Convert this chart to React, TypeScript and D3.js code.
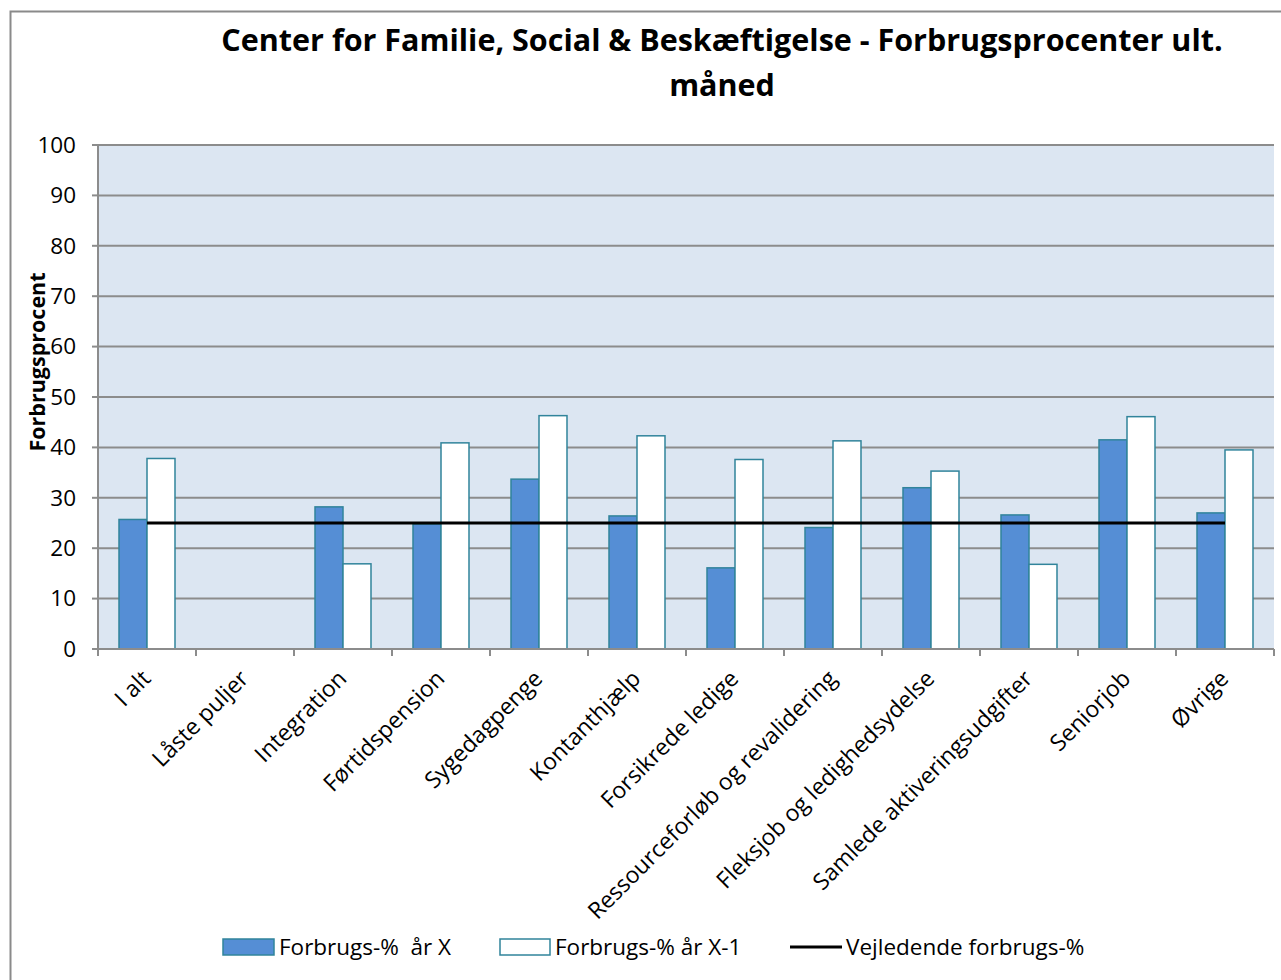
import * as d3 from 'd3';

const categories = [
  'I alt', 'Låste puljer', 'Integration', 'Førtidspension', 'Sygedagpenge', 'Kontanthjælp',
  'Forsikrede ledige', 'Ressourceforløb og revalidering', 'Fleksjob og ledighedsydelse',
  'Samlede aktiveringsudgifter', 'Seniorjob', 'Øvrige',
];
const yearX: (number | null)[] = [25.7, null, 28.2, 24.8, 33.7, 26.4, 16.1, 24.1, 32.0, 26.6, 41.5, 27.0];
const yearX1: (number | null)[] = [37.8, null, 16.9, 40.9, 46.3, 42.3, 37.6, 41.3, 35.3, 16.8, 46.1, 39.5];
const guide = [25, 25, 25, 25, 25, 25, 25, 25, 25, 25, 25, 25];
const yTicks = [0, 10, 20, 30, 40, 50, 60, 70, 80, 90, 100];

const FONT = '"Open Sans", Lato, sans-serif';
const BLUE = '#558ED5';
const EDGE = '#31849B';
const GRID = '#8c8c8c';

export default function App() {
  const W = 1281, H = 980;
  const m = { left: 98, right: 1274, top: 145, bottom: 649 };

  const x = d3.scaleBand<string>().domain(categories).range([m.left, m.right]).padding(0);
  const y = d3.scaleLinear().domain([0, 100]).range([m.bottom, m.top]);
  const bw = x.bandwidth() * 0.2857; // two bars + 150% gap
  const line = d3.line<number>()
    .x((_, i) => (x(categories[i]) ?? 0) + x.bandwidth() / 2)
    .y(d => y(d));

  return (
    <svg width={W} height={H} style={{ position: 'absolute', left: 0, top: 0, background: '#fff' }}
      fontFamily={FONT}>
      <rect x={0} y={0} width={W} height={H} fill="#fff" />
      {/* outer frame */}
      <path d={`M10.5,${H} V11.5 H${W}`} fill="none" stroke="#8a8a8a" strokeWidth={2} />

      {/* title */}
      <text x={722} y={51} textAnchor="middle" fontSize={30.5} fontWeight="bold">
        Center for Familie, Social &amp; Beskæftigelse - Forbrugsprocenter ult.
      </text>
      <text x={722} y={96} textAnchor="middle" fontSize={30.5} fontWeight="bold">måned</text>

      {/* plot background */}
      <rect x={m.left} y={m.top} width={m.right - m.left} height={m.bottom - m.top} fill="#DCE6F2" />

      {/* grid + y ticks */}
      {yTicks.map(t => (
        <g key={t}>
          {t > 0 && <line x1={m.left} x2={m.right} y1={y(t)} y2={y(t)} stroke={GRID} strokeWidth={2} />}
          <line x1={m.left - 6} x2={m.left} y1={y(t)} y2={y(t)} stroke={GRID} strokeWidth={2} />
          <text x={76} y={y(t)} dy="0.35em" textAnchor="end" fontSize={22.5}>{t}</text>
        </g>
      ))}

      {/* y axis */}
      <line x1={m.left} x2={m.left} y1={m.top} y2={m.bottom} stroke={GRID} strokeWidth={2} />
      <text transform={`translate(45,362) rotate(-90)`} textAnchor="middle"
        fontSize={21.5} fontWeight="bold">Forbrugsprocent</text>

      {/* bars */}
      {categories.map((c, i) => {
        const cx = (x(c) ?? 0) + x.bandwidth() / 2;
        const a = yearX[i], b = yearX1[i];
        return (
          <g key={c}>
            {a != null && (
              <rect x={cx - bw} y={y(a)} width={bw} height={y(0) - y(a)} fill={BLUE} stroke={EDGE} strokeWidth={1.5} />
            )}
            {b != null && (
              <rect x={cx} y={y(b)} width={bw} height={y(0) - y(b)} fill="#fff" stroke={EDGE} strokeWidth={1.5} />
            )}
          </g>
        );
      })}

      {/* x axis */}
      <line x1={m.left} x2={m.right} y1={m.bottom} y2={m.bottom} stroke={GRID} strokeWidth={2} />
      {[...categories.map(c => x(c) ?? 0), m.right].map((v, i) => (
        <line key={i} x1={v} x2={v} y1={m.bottom} y2={m.bottom + 7} stroke={GRID} strokeWidth={2} />
      ))}
      {categories.map(c => {
        const cx = (x(c) ?? 0) + x.bandwidth() / 2;
        return (
          <text key={c} transform={`translate(${cx + 5},${m.bottom + 31}) rotate(-45)`} textAnchor="end"
            fontSize={23}>{c}</text>
        );
      })}

      {/* guide line */}
      <path d={line(guide) ?? ''} fill="none" stroke="#000" strokeWidth={3} />

      {/* legend */}
      <g fontSize={22.5}>
        <rect x={223} y={939} width={51} height={16} fill={BLUE} stroke={EDGE} strokeWidth={1.5} />
        <text x={279} y={947} dy="0.35em" style={{ whiteSpace: 'pre' }}>Forbrugs-%  år X</text>
        <rect x={500} y={939} width={50} height={16} fill="#fff" stroke={EDGE} strokeWidth={1.5} />
        <text x={555} y={947} dy="0.35em">Forbrugs-% år X-1</text>
        <line x1={790} x2={842} y1={947} y2={947} stroke="#000" strokeWidth={3} />
        <text x={846} y={947} dy="0.35em">Vejledende forbrugs-%</text>
      </g>
    </svg>
  );
}
